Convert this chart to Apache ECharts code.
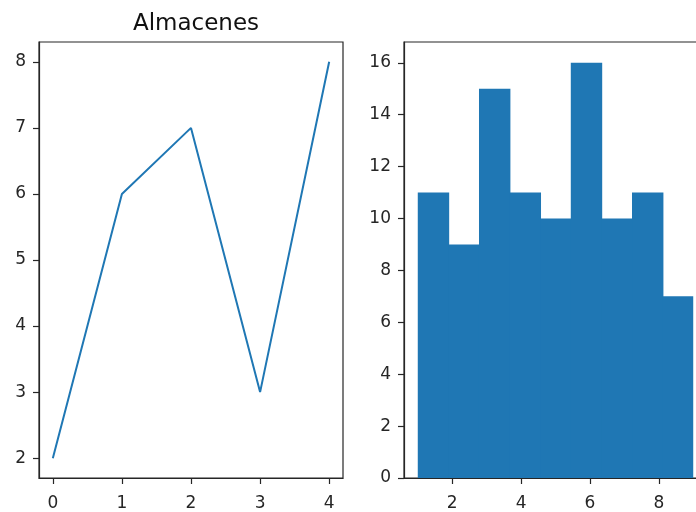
<!DOCTYPE html>
<html>
<head>
<meta charset="utf-8">
<title>Almacenes</title>
<script src="https://cdn.jsdelivr.net/npm/echarts@6/dist/echarts.min.js"></script>
<style>
  html, body { margin: 0; padding: 0; background: #ffffff; }
  #chart { width: 696px; height: 512px; }
</style>
</head>
<body>
<div id="chart"></div>
<script>
// Line panel: values per store index
const storeIndex = [0, 1, 2, 3, 4];
const storeValues = [2, 6, 7, 3, 8];
const lineXTicks = [0, 1, 2, 3, 4];
const lineYTicks = [2, 3, 4, 5, 6, 7, 8];

// Histogram panel: bin edges and counts per bin
const binEdges = [1, 1.889, 2.778, 3.667, 4.556, 5.444, 6.333, 7.222, 8.111, 9];
const binCounts = [11, 9, 15, 11, 10, 16, 10, 11, 7];
const histXTicks = [2, 4, 6, 8];
const histYTicks = [0, 2, 4, 6, 8, 10, 12, 14, 16];

const BLUE = '#1f77b4';
const INK = '#262626';
const FONT = 'DejaVu Sans';

const lineData = storeIndex.map((x, i) => [x, storeValues[i]]);
const histData = binCounts.map((c, i) => [binEdges[i], binEdges[i + 1], c]);

function valueAxis(gridIndex, min, max, ticks, position) {
  const isX = position === 'bottom';
  return {
    type: 'value',
    gridIndex: gridIndex,
    position: position,
    min: min,
    max: max,
    splitLine: { show: false },
    axisLine: { show: true, onZero: false, lineStyle: { color: INK, width: 1.2 } },
    axisTick: { show: true, length: 6, customValues: ticks, lineStyle: { color: INK, width: 1.2 } },
    axisLabel: {
      customValues: ticks,
      color: INK,
      fontFamily: FONT,
      fontSize: 17,
      margin: isX ? 17 : 13
    }
  };
}

const chart = echarts.init(document.getElementById('chart'), null, { renderer: 'canvas' });

chart.setOption({
  animation: false,
  backgroundColor: '#ffffff',
  title: {
    text: 'Almacenes',
    left: 191,
    top: 8,
    textAlign: 'center',
    textStyle: { color: '#111', fontFamily: FONT, fontSize: 23, fontWeight: 'normal' }
  },
  grid: [
    { left: 39, top: 42, width: 304, height: 436, show: true, borderColor: INK, borderWidth: 1.2, containLabel: false, outerBoundsMode: 'none' },
    { left: 404, top: 42, width: 303, height: 436, show: true, borderColor: INK, borderWidth: 1.2, containLabel: false, outerBoundsMode: 'none' }
  ],
  xAxis: [
    valueAxis(0, -0.2, 4.2, lineXTicks, 'bottom'),
    valueAxis(1, 0.6, 9.4, histXTicks, 'bottom')
  ],
  yAxis: [
    valueAxis(0, 1.7, 8.3, lineYTicks, 'left'),
    valueAxis(1, 0, 16.8, histYTicks, 'left')
  ],
  series: [
    {
      type: 'line',
      xAxisIndex: 0,
      yAxisIndex: 0,
      data: lineData,
      showSymbol: false,
      symbol: 'none',
      lineStyle: { color: BLUE, width: 2 },
      z: 3
    },
    {
      type: 'custom',
      xAxisIndex: 1,
      yAxisIndex: 1,
      data: histData,
      encode: { x: [0, 1], y: 2 },
      renderItem: function (params, api) {
        const p0 = api.coord([api.value(0), api.value(2)]);
        const p1 = api.coord([api.value(1), 0]);
        // slight overlap with the next bin hides anti-aliased seams
        const overlap = params.dataIndex < params.dataInsideLength - 1 ? 0.8 : 0;
        return {
          type: 'rect',
          shape: { x: p0[0], y: p0[1], width: p1[0] - p0[0] + overlap, height: p1[1] - p0[1] },
          style: { fill: BLUE }
        };
      },
      z: 1
    }
  ]
});
</script>
</body>
</html>
